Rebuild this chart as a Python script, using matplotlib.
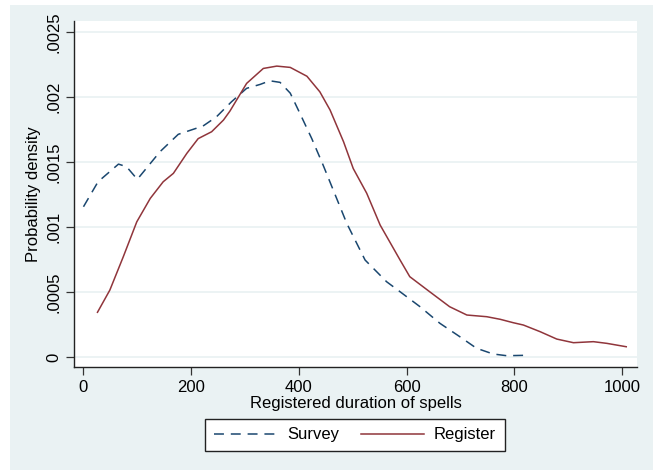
import numpy as np
import matplotlib.pyplot as plt
from matplotlib.patches import Rectangle

# Kernel density estimates
survey_x = [0, 27, 65, 80, 100, 142, 176, 222, 247, 275, 303, 328, 346, 365, 384,
            402, 424, 445, 489, 523, 563, 588, 625, 662, 699, 730, 761, 786, 820]
survey_y = [0.001156, 0.001348, 0.001484, 0.001464, 0.001367, 0.001579, 0.001713,
            0.001777, 0.001848, 0.001964, 0.002067, 0.002097, 0.002125, 0.002113,
            0.00203, 0.001874, 0.00168, 0.001477, 0.001028, 0.000746, 0.000579,
            0.000502, 0.000387, 0.000259, 0.000156, 0.000067, 0.000023, 0.00001,
            0.000013]

register_x = [26, 49, 74, 99, 124, 148, 167, 192, 213, 238, 260, 272, 303, 334, 359,
              384, 415, 439, 458, 483, 501, 526, 551, 588, 606, 643, 680, 712, 749,
              774, 798, 817, 848, 879, 910, 947, 972, 1008]
register_y = [0.000344, 0.000515, 0.000772, 0.00104, 0.00122, 0.001348, 0.001413,
              0.001567, 0.00168, 0.001733, 0.001823, 0.001892, 0.002105, 0.00222,
              0.002238, 0.002228, 0.00216, 0.00204, 0.0019, 0.001656, 0.00145,
              0.00126, 0.001015, 0.000746, 0.000618, 0.000502, 0.000387, 0.000323,
              0.00031, 0.00029, 0.000264, 0.000246, 0.000195, 0.000138, 0.00011,
              0.000118, 0.000105, 0.000079]

x_ticks = [0, 200, 400, 600, 800, 1000]
y_ticks = [0, 0.0005, 0.001, 0.0015, 0.002, 0.0025]
y_tick_labels = ["0", ".0005", ".001", ".0015", ".002", ".0025"]

plt.rcParams['font.family'] = ['Liberation Sans', 'DejaVu Sans']

W, H = 653, 470
fig = plt.figure(figsize=(W / 100, H / 100), dpi=100, facecolor='white')
bg = '#eaf2f3'
fig.patches.append(Rectangle((10 / W, 0), 1 - 10 / W, 1 - 5 / H,
                             transform=fig.transFigure, facecolor=bg,
                             edgecolor='none', zorder=-1))

ax = fig.add_axes([74 / W, 1 - 367 / H, (637 - 74) / W, (367 - 21) / H])
ax.set_facecolor('white')

ax.plot(survey_x, survey_y, color='#1a476f', lw=1.1, ls=(0, (6.5, 4.5)),
        label='Survey')
ax.plot(register_x, register_y, color='#90353b', lw=1.1, label='Register')

ax.set_xlim(-17.6, 1028)
ax.set_ylim(-0.0000769, 0.002585)
ax.set_xticks(x_ticks)
ax.set_yticks(y_ticks)
ax.set_yticklabels(y_tick_labels, rotation=90, va='center')
ax.tick_params(labelsize=12, length=6, width=0.9, color='#333333', pad=3)
for y in y_ticks:
    ax.axhline(y, color=bg, lw=1.3, zorder=0)

for side in ['top', 'right']:
    ax.spines[side].set_visible(False)
for side in ['left', 'bottom']:
    ax.spines[side].set_linewidth(1.0)
    ax.spines[side].set_color('#222222')

ax.set_xlabel('Registered duration of spells', fontsize=12, labelpad=1)
ax.set_ylabel('Probability density', fontsize=12, labelpad=4)

leg = fig.legend(loc='center', bbox_to_anchor=(355 / W, 1 - 435 / H), ncol=2,
                 fontsize=12, handlelength=3.8, handletextpad=0.6,
                 columnspacing=1.3, fancybox=False, framealpha=1,
                 borderpad=0.5)
leg.get_frame().set_edgecolor('#222222')
leg.get_frame().set_linewidth(1.0)

fig.savefig('out.png', dpi=100)
